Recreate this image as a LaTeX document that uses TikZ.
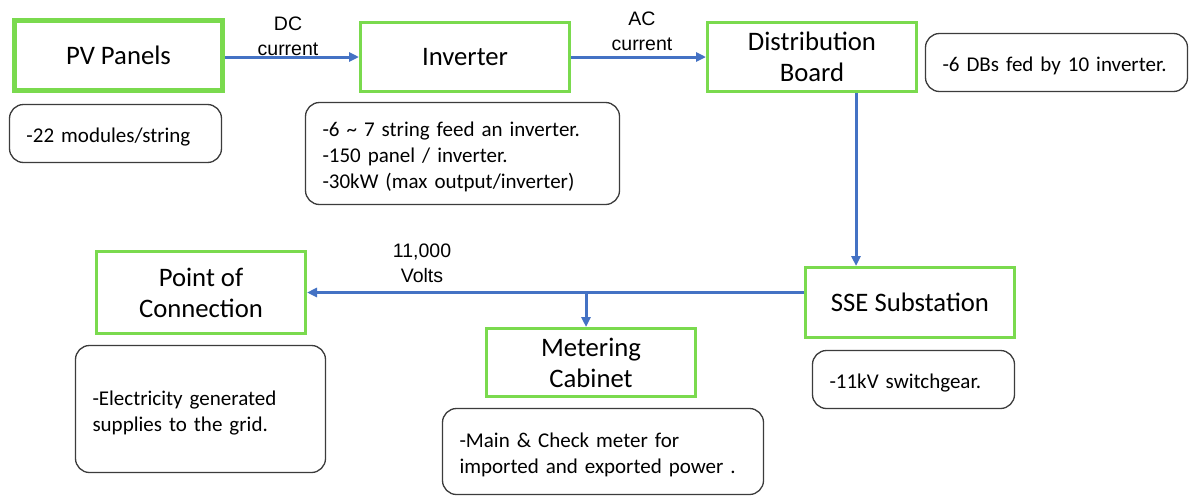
\documentclass[tikz,border=0pt]{standalone}
\usepackage{fontspec}
\setmainfont{Carlito}
\newfontfamily\lblfont{Liberation Sans}
\usetikzlibrary{arrows.meta}
\definecolor{boxgreen}{RGB}{122,218,78}
\definecolor{flowblue}{RGB}{68,114,196}
\definecolor{notegray}{RGB}{60,60,60}
\tikzset{
  stagebox/.style={draw=boxgreen, line width=3pt, inner sep=0pt, align=center,
    minimum width=209pt, font=\fontsize{26.7}{31}\selectfont},
  notebox/.style={draw=notegray, line width=1.3pt, rounded corners=14pt, inner xsep=17pt, inner ysep=0pt,
    align=left, font=\fontsize{21}{26}\selectfont, execute at begin node={\rule{0pt}{22pt}}},
  flow/.style={draw=flowblue, line width=3pt, -{Triangle[length=10pt,width=9pt]}},
  flowlabel/.style={align=center, font=\lblfont\fontsize{19.5}{25}\selectfont, inner sep=0pt}
}
\begin{document}
\begin{tikzpicture}[x=1pt,y=-1pt]
\useasboundingbox[fill=white] (0,0) rectangle (1194,498);
% stages
\node[stagebox, line width=5pt, minimum width=208pt, minimum height=70pt] (pv) at (118.5,55.5) {PV Panels};
\node[stagebox, minimum height=69pt] (inv) at (465,57) {Inverter};
\node[stagebox, minimum height=69pt] (db) at (812,57) {Distribution\\Board};
\node[stagebox, minimum height=70pt] (sse) at (910,302.5) {SSE Substation};
\node[stagebox, minimum height=82pt] (poc) at (201,292.5) {Point of\\Connection};
\node[stagebox, minimum height=68pt] (met) at (591,362.5) {Metering\\Cabinet};
% notes
\node[notebox, text width=178pt, minimum height=58pt] (pvn) at (115.5,133.5) {-22 modules/string};
\node[notebox, text width=280pt, minimum height=102pt] (invn) at (462.5,153.5) {-6 \textasciitilde{} 7 string feed an inverter.\\-150 panel / inverter.\\-30kW (max output/inverter)};
\node[notebox, text width=228pt, minimum height=58pt] (dbn) at (1056.5,62.5) {-6 DBs fed by 10 inverter.};
\node[notebox, text width=168pt, minimum height=58pt] (ssen) at (913.5,379.5) {-11kV switchgear.};
\node[notebox, text width=216pt, minimum height=127pt] (pocn) at (200.5,409) {-Electricity generated\\supplies to the grid.};
\node[notebox, text width=287pt, minimum height=86pt] (metn) at (603,451.5) {-Main \& Check meter for\\imported and exported power .};
% connectors
\draw[flow] (pv.east |- inv.west) -- (inv.west);
\draw[flow] (inv.east) -- (db.west);
\draw[flow] ([xshift=44pt]db.south) -- ([xshift=-54pt]sse.north);
\draw[flow] (sse.west |- poc.east) -- (poc.east);
\coordinate (br) at (586,292.5);
\draw[flow] (br) -- (br |- met.north);
% labels
\node[flowlabel] (dcl) at (288,36) {DC\\current};
\node[flowlabel] (acl) at (642,31) {AC\\current};
\node[flowlabel] (vl) at (422,263) {11,000\\Volts};
\end{tikzpicture}
\end{document}
